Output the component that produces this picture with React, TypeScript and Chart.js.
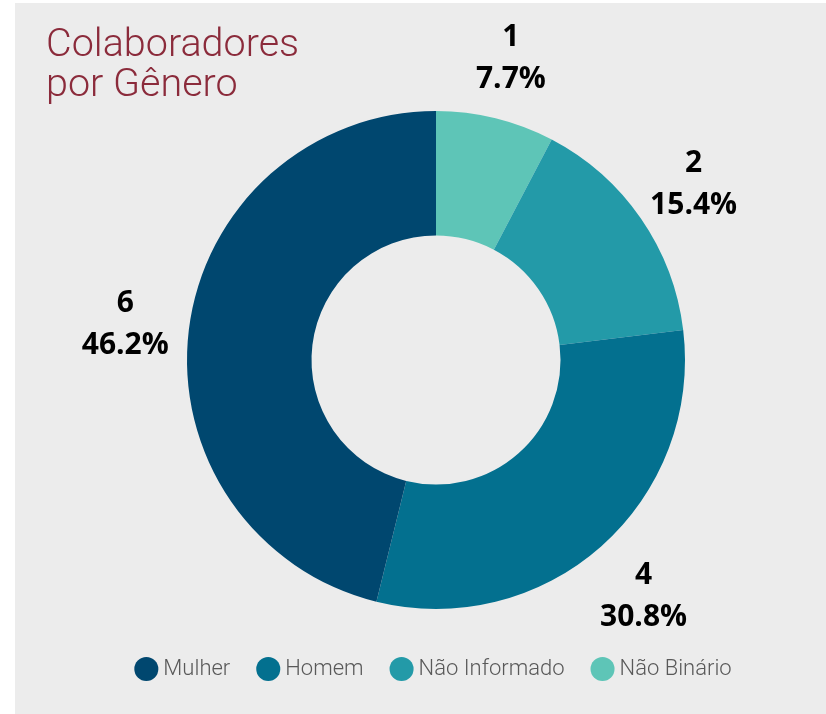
import React, { useEffect, useRef } from "react";
import { Chart, registerables } from "chart.js";

Chart.register(...registerables);

const categories = ["Não Binário", "Não Informado", "Homem", "Mulher"];
const values = [1, 2, 4, 6];
const colors = ["#5ec5b7", "#239aa8", "#03708f", "#00476f"];
const titleLines = ["Colaboradores", "por Gênero"];

const outsideLabels = {
  id: "outsideLabels",
  afterDatasetsDraw(chart: any) {
    const ctx = chart.ctx;
    const meta = chart.getDatasetMeta(0);
    const data = chart.data.datasets[0].data as number[];
    const total = data.reduce((a, b) => a + b, 0);
    ctx.save();
    ctx.fillStyle = "#000000";
    ctx.font = "bold 30px 'Open Sans'";
    ctx.textAlign = "center";
    ctx.textBaseline = "middle";
    meta.data.forEach((arc: any, i: number) => {
      const p = arc.getProps(["x", "y", "startAngle", "endAngle", "outerRadius"], true);
      const a = (p.startAngle + p.endAngle) / 2;
      const r = p.outerRadius + 64;
      const x = p.x + Math.cos(a) * r;
      const y = p.y + Math.sin(a) * r + 2;
      ctx.fillText(String(data[i]), x, y - 21);
      ctx.fillText(((data[i] / total) * 100).toFixed(1) + "%", x, y + 21);
    });
    ctx.restore();
  },
};

export default function App() {
  const ref = useRef<HTMLCanvasElement>(null);
  useEffect(() => {
    const chart = new Chart(ref.current!, {
      type: "doughnut",
      data: {
        labels: categories,
        datasets: [
          {
            data: values,
            backgroundColor: colors,
            borderWidth: 0,
          },
        ],
      },
      options: {
        animation: false,
        responsive: false,
        events: [],
        cutout: "50%",
        radius: 249,
        layout: { padding: { top: 91, bottom: 24, left: 31, right: 0 } },
        plugins: {
          tooltip: { enabled: false },
          legend: {
            position: "bottom",
            reverse: true,
            labels: {
              usePointStyle: true,
              pointStyle: "circle",
              boxHeight: 17,
              boxWidth: 12,
              padding: 32,
              color: "#595959",
              font: { family: "Roboto", size: 22, weight: 300 as any },
            },
          },
        },
      },
      plugins: [outsideLabels],
    });
    return () => chart.destroy();
  }, []);

  return (
    <div style={{ position: "fixed", left: 0, top: 0, width: 826, height: 714, background: "#ffffff" }}>
      <div style={{ position: "absolute", left: 15, top: 3, width: 811, height: 711, background: "#ececec" }}>
        <canvas ref={ref} width={811} height={711} style={{ position: "absolute", left: 0, top: 0 }} />
        <div
          style={{
            position: "absolute",
            left: 31,
            top: 20,
            color: "#8b2b3b",
            fontFamily: "Roboto",
            fontWeight: 300,
            fontSize: 39.5,
            lineHeight: "40px",
          }}
        >
          {titleLines.map((t) => (
            <div key={t}>{t}</div>
          ))}
        </div>
      </div>
    </div>
  );
}
